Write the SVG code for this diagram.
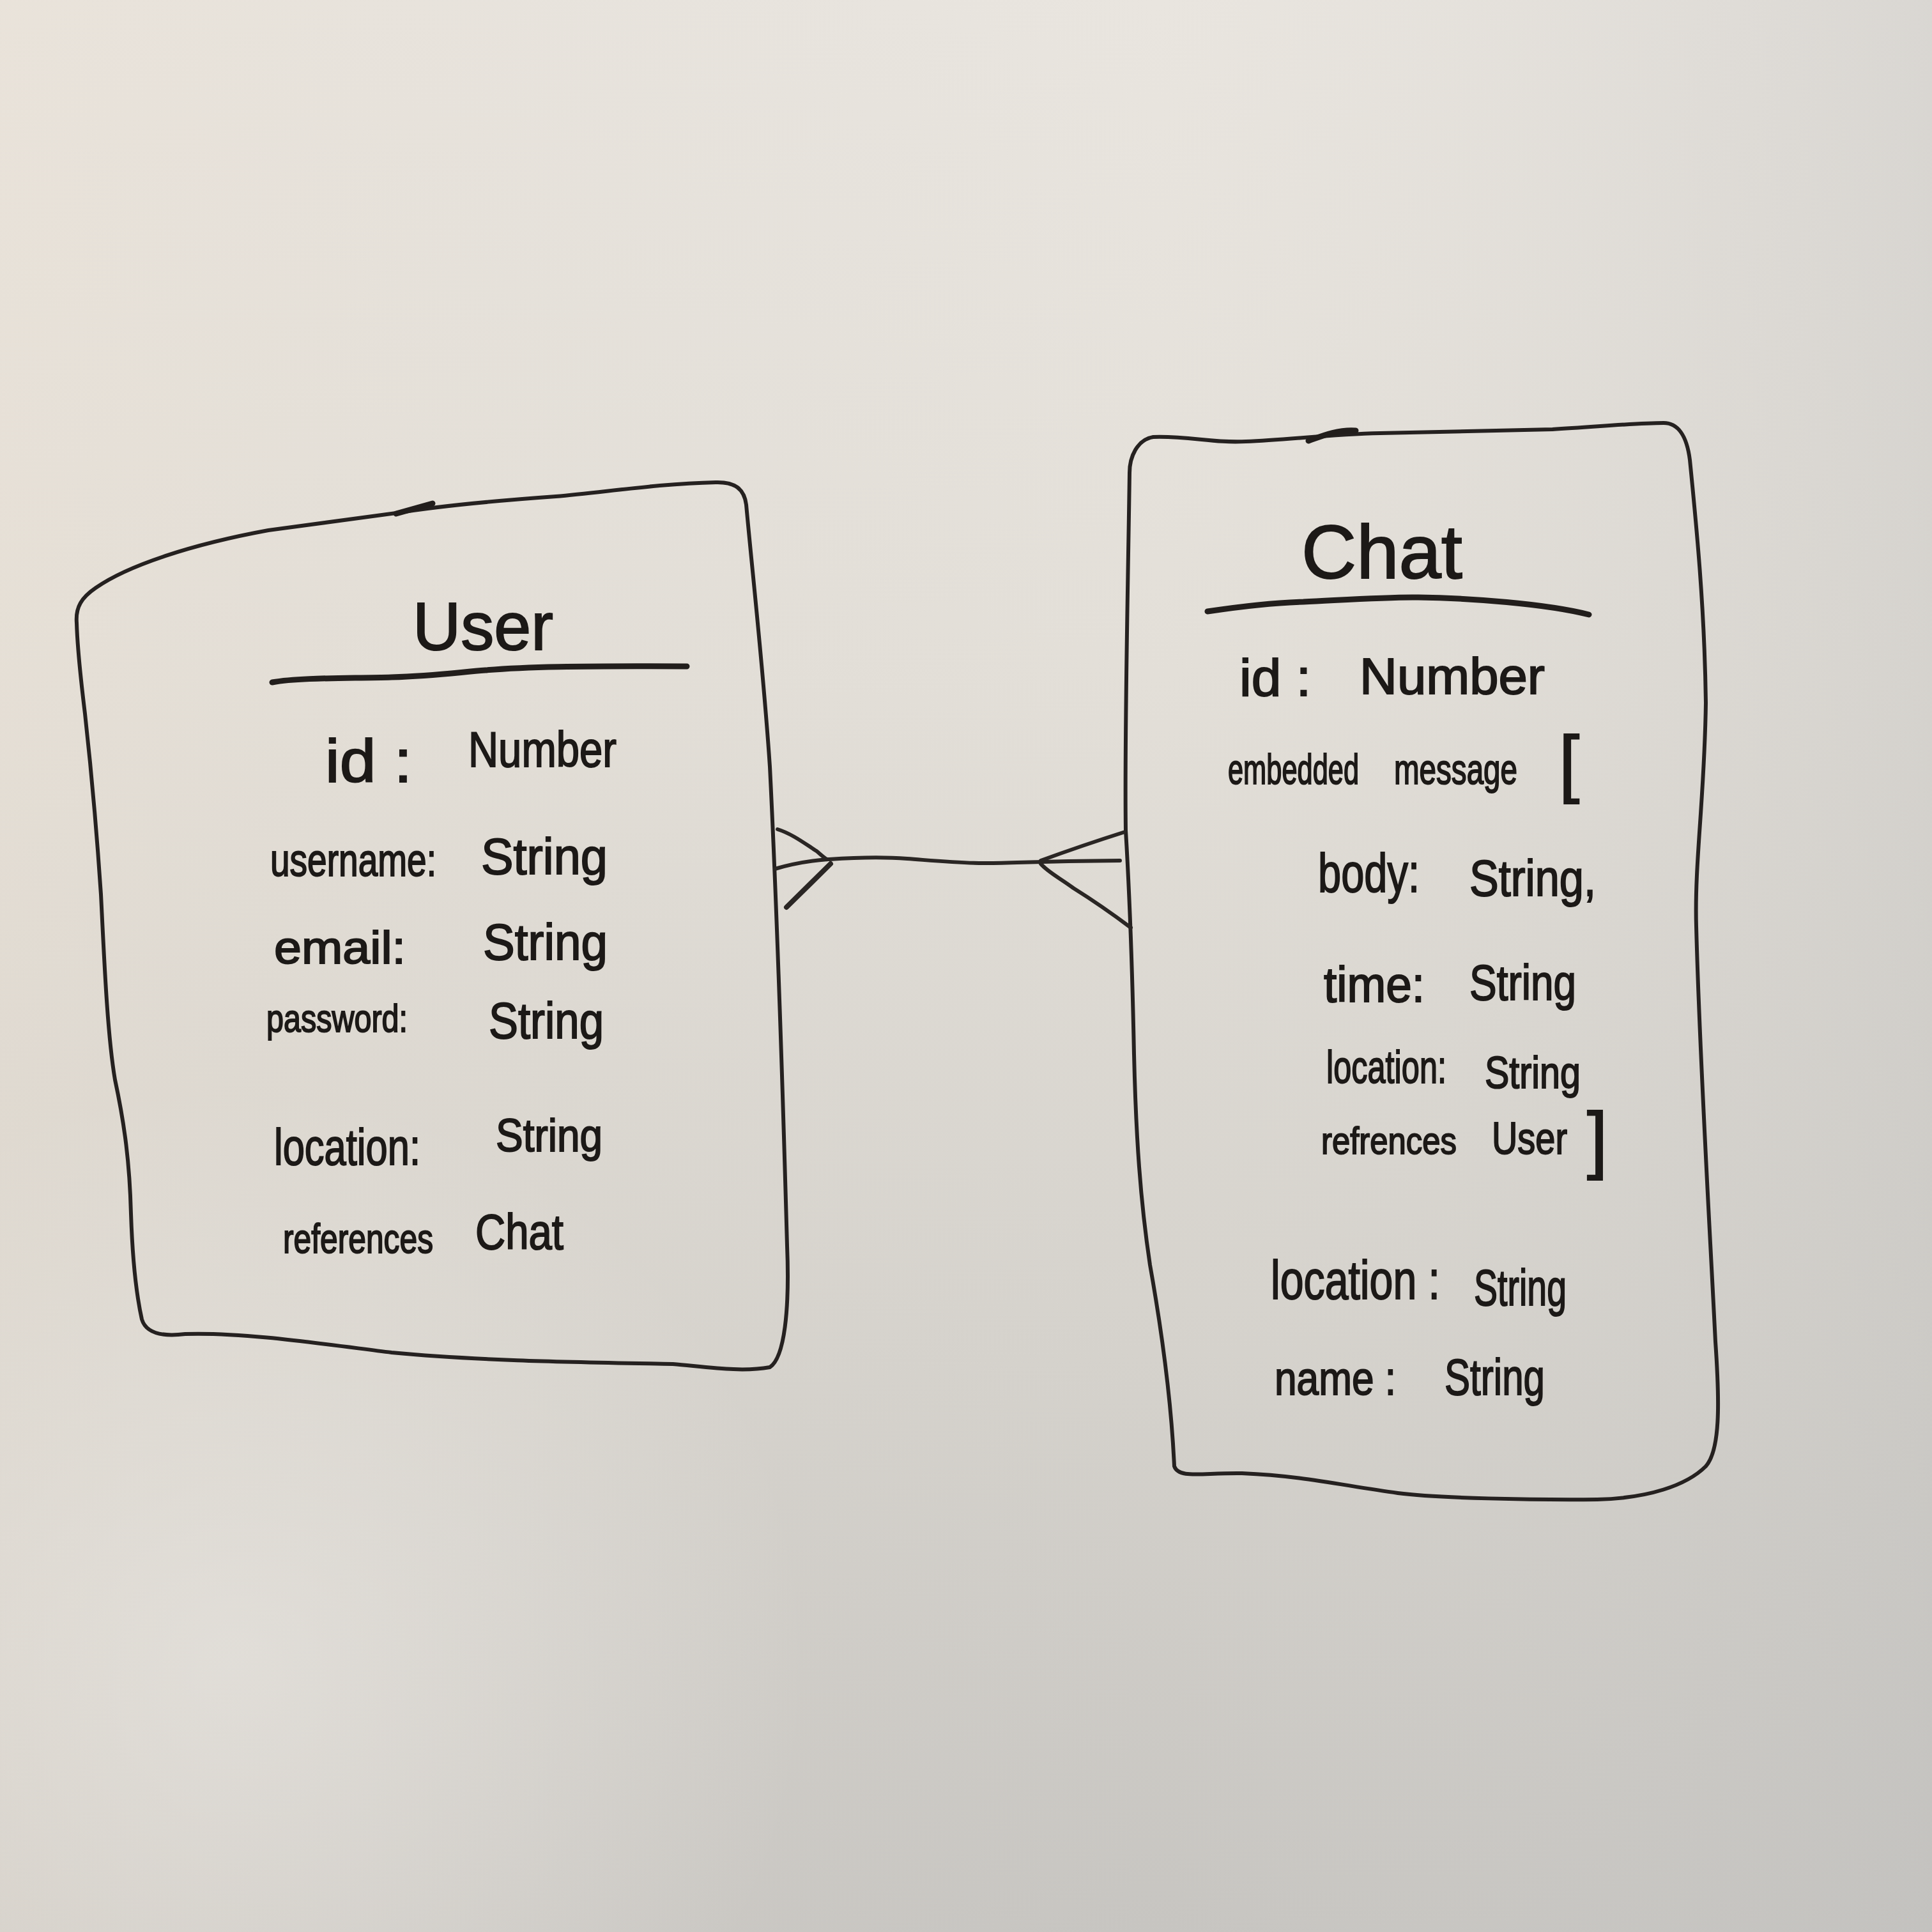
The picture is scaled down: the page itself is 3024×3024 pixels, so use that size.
<svg xmlns="http://www.w3.org/2000/svg" width="3024" height="3024" viewBox="0 0 3024 3024">
<defs>
<linearGradient id="bg" x1="0" y1="0" x2="0" y2="1">
<stop offset="0" stop-color="#e9e5df"/>
<stop offset="0.35" stop-color="#e3dfd8"/>
<stop offset="0.7" stop-color="#d5d2cc"/>
<stop offset="1" stop-color="#c7c5c1"/>
</linearGradient>
<linearGradient id="bgx" x1="0" y1="0" x2="1" y2="0">
<stop offset="0" stop-color="#eadfd1" stop-opacity="0.35"/>
<stop offset="0.6" stop-color="#d8d6d2" stop-opacity="0"/>
<stop offset="1" stop-color="#bcbcbb" stop-opacity="0.35"/>
</linearGradient>
<radialGradient id="glare" cx="0.12" cy="0.86" r="0.3">
<stop offset="0" stop-color="#f0eeea" stop-opacity="0.45"/>
<stop offset="1" stop-color="#f0eeea" stop-opacity="0"/>
</radialGradient>
<style>
.box{fill:none;stroke:#252120;stroke-width:6;stroke-linecap:round;stroke-linejoin:round}
.rule{fill:none;stroke:#221e1c;stroke-width:9;stroke-linecap:round}
.tick{fill:none;stroke:#221e1c;stroke-width:9;stroke-linecap:round}
.con{fill:none;stroke:#2a2624;stroke-width:6;stroke-linecap:round;stroke-linejoin:round}
text{font-family:"Liberation Sans","DejaVu Sans",sans-serif;fill:#1c1917;stroke:#1c1917;stroke-width:2}
</style>
</defs>
<rect x="0" y="0" width="3024" height="3024" fill="url(#bg)"/>
<rect x="0" y="0" width="3024" height="3024" fill="url(#bgx)"/>
<rect x="0" y="0" width="3024" height="3024" fill="url(#glare)"/>

<g id="user">
<path class="box" d="M 120,975 C 118,950 128,935 150,920 C 200,885 300,852 420,830 L 620,803 C 700,790 800,782 870,777 C 950,770 1030,757 1120,755 C 1150,754 1165,765 1168,790 C 1178,900 1195,1050 1205,1200 C 1215,1400 1225,1700 1232,1950 C 1236,2050 1228,2125 1205,2140 C 1160,2148 1110,2140 1053,2135 C 900,2132 750,2130 613,2117 C 500,2103 380,2085 290,2088 C 250,2093 228,2085 222,2065 C 212,2020 207,1960 205,1900 C 203,1820 195,1760 180,1690 C 168,1620 163,1500 158,1400 C 150,1280 140,1180 133,1117 C 126,1060 121,1010 120,975 Z"/>
<path class="tick" d="M 620,804 L 677,788"/>
<text x="646" y="1017" font-size="105" textLength="220" lengthAdjust="spacingAndGlyphs">User</text>
<path class="rule" d="M 426,1068 C 470,1060 550,1062 613,1060 C 680,1058 720,1052 760,1049 C 820,1044 900,1042 1075,1043"/>
<text x="509" y="1224" font-size="95" textLength="136" lengthAdjust="spacingAndGlyphs">id :</text>
<text x="733" y="1200" font-size="78" textLength="232" lengthAdjust="spacingAndGlyphs">Number</text>
<text x="423" y="1371" font-size="72" textLength="260" lengthAdjust="spacingAndGlyphs">username:</text>
<text x="753" y="1368" font-size="80" textLength="198" lengthAdjust="spacingAndGlyphs">String</text>
<text x="429" y="1508" font-size="72" textLength="206" lengthAdjust="spacingAndGlyphs">email:</text>
<text x="756" y="1502" font-size="80" textLength="195" lengthAdjust="spacingAndGlyphs">String</text>
<text x="417" y="1615" font-size="62" textLength="221" lengthAdjust="spacingAndGlyphs">password:</text>
<text x="765" y="1625" font-size="80" textLength="180" lengthAdjust="spacingAndGlyphs">String</text>
<text x="429" y="1823" font-size="80" textLength="229" lengthAdjust="spacingAndGlyphs">location:</text>
<text x="776" y="1802" font-size="72" textLength="167" lengthAdjust="spacingAndGlyphs">String</text>
<text x="443" y="1961" font-size="64" textLength="235" lengthAdjust="spacingAndGlyphs">references</text>
<text x="744" y="1955" font-size="78" textLength="138" lengthAdjust="spacingAndGlyphs">Chat</text>
</g>

<g id="chat">
<path class="box" d="M 1768,740 C 1768,715 1780,688 1805,684 C 1860,682 1900,694 1950,691 C 2020,688 2080,680 2160,678 C 2260,675 2360,674 2430,672 C 2500,668 2560,662 2604,662 C 2625,662 2640,680 2645,720 C 2655,820 2668,950 2670,1100 C 2668,1250 2652,1350 2655,1450 C 2660,1650 2675,1900 2685,2100 C 2692,2200 2692,2270 2670,2295 C 2640,2325 2580,2345 2500,2347 C 2400,2348 2250,2345 2188,2337 C 2100,2325 2040,2310 1944,2306 C 1880,2305 1845,2315 1838,2295 C 1835,2230 1825,2120 1800,1980 C 1785,1880 1778,1780 1775,1650 C 1772,1500 1768,1400 1762,1300 C 1760,1150 1765,950 1768,740 Z"/>
<path class="tick" d="M 2048,690 C 2070,682 2095,672 2122,674"/>
<text x="2037" y="905" font-size="118" textLength="252" lengthAdjust="spacingAndGlyphs">Chat</text>
<path class="rule" d="M 1890,957 C 1950,948 2000,943 2040,942 C 2120,938 2180,934 2220,935 C 2300,936 2420,945 2487,962"/>
<text x="1940" y="1089" font-size="82" textLength="112" lengthAdjust="spacingAndGlyphs">id :</text>
<text x="2128" y="1086" font-size="80" textLength="290" lengthAdjust="spacingAndGlyphs">Number</text>
<text y="1227" font-size="66"><tspan x="1922" textLength="205" lengthAdjust="spacingAndGlyphs">embedded</tspan><tspan x="2182" textLength="193" lengthAdjust="spacingAndGlyphs">message</tspan><tspan x="2440" y="1234" font-size="116">[</tspan></text>
<text x="2063" y="1396" font-size="85" textLength="159" lengthAdjust="spacingAndGlyphs">body:</text>
<text x="2300" y="1402" font-size="80" textLength="198" lengthAdjust="spacingAndGlyphs">String,</text>
<text x="2072" y="1568" font-size="78" textLength="158" lengthAdjust="spacingAndGlyphs">time:</text>
<text x="2300" y="1565" font-size="78" textLength="167" lengthAdjust="spacingAndGlyphs">String</text>
<text x="2076" y="1695" font-size="72" textLength="188" lengthAdjust="spacingAndGlyphs">location:</text>
<text x="2324" y="1703" font-size="70" textLength="150" lengthAdjust="spacingAndGlyphs">String</text>
<text y="1806" font-size="60"><tspan x="2068" textLength="212" lengthAdjust="spacingAndGlyphs">refrences</tspan><tspan x="2335" font-size="70" textLength="118" lengthAdjust="spacingAndGlyphs">User</tspan><tspan x="2484" y="1823" font-size="116">]</tspan></text>
<text x="1989" y="2033" font-size="85" textLength="265" lengthAdjust="spacingAndGlyphs">location :</text>
<text x="2307" y="2043" font-size="80" textLength="145" lengthAdjust="spacingAndGlyphs">String</text>
<text x="1995" y="2183" font-size="75" textLength="190" lengthAdjust="spacingAndGlyphs">name :</text>
<text x="2261" y="2183" font-size="80" textLength="157" lengthAdjust="spacingAndGlyphs">String</text>
</g>

<g id="connectors">
<path class="con" d="M 1298,1345 C 1340,1342 1384,1341 1420,1344 C 1460,1347 1500,1351 1540,1351 C 1580,1351 1620,1348 1753,1347"/>
<path class="con" d="M 1217,1298 C 1240,1305 1262,1322 1278,1332 C 1284,1337 1288,1341 1294,1345"/>
<path class="con" d="M 1213,1360 C 1240,1352 1270,1347 1296,1345"/>
<path class="con" style="stroke-width:8" d="M 1231,1420 L 1300,1352"/>
<path class="con" d="M 1629,1347 C 1670,1332 1720,1315 1761,1302"/>
<path class="con" d="M 1629,1352 C 1640,1365 1660,1375 1680,1390 C 1720,1415 1750,1437 1770,1452"/>
</g>
</svg>
